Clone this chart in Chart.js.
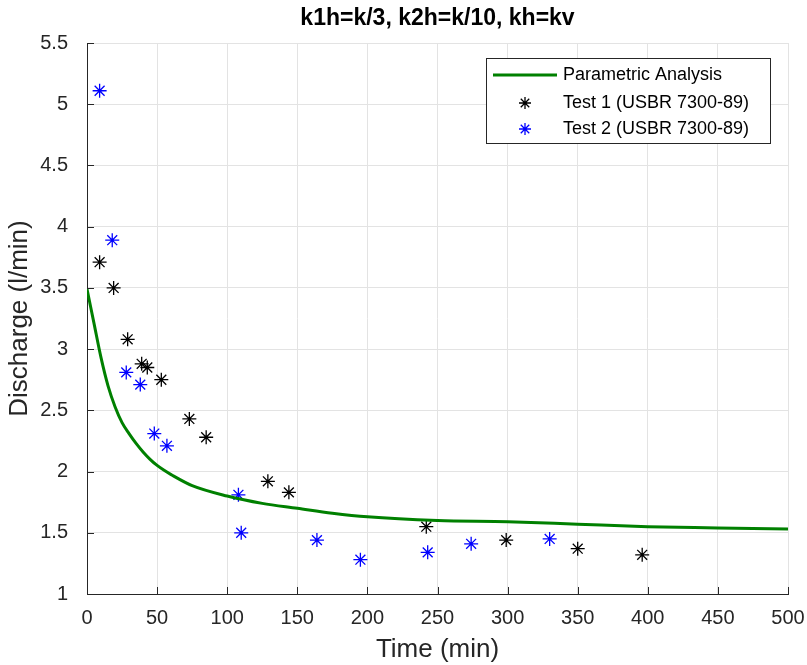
<!DOCTYPE html>
<html>
<head>
<meta charset="utf-8">
<script src="https://cdn.jsdelivr.net/npm/chart.js@4/dist/chart.umd.min.js"></script>
<style>
  html, body { margin: 0; padding: 0; background: #fff; }
  #wrap { width: 807px; height: 665px; }
</style>
</head>
<body>
<div id="wrap"><canvas id="dischargeChart" width="807" height="665"></canvas></div>
<script>
    // Datos
    const curveTime = [0, 5, 10, 15, 20, 25, 30, 35, 40, 45, 50, 55, 60, 75, 100, 125, 150, 175, 200, 250, 300, 350, 400, 450, 500];
    const curveDischarge = [3.49, 3.21, 2.93, 2.70, 2.53, 2.40, 2.31, 2.23, 2.16, 2.10, 2.05, 2.01, 1.975, 1.885, 1.80, 1.74, 1.70, 1.66, 1.63, 1.60, 1.59, 1.57, 1.55, 1.54, 1.53];

    const test1Time = [9, 19, 29, 39, 43, 53, 73, 85, 129, 144, 242, 299, 350, 396];
    const test1Discharge = [3.71, 3.50, 3.08, 2.88, 2.85, 2.75, 2.43, 2.28, 1.92, 1.83, 1.55, 1.44, 1.37, 1.32];

    const test2Time = [9, 18, 28, 38, 48, 57, 108, 110, 164, 195, 243, 274, 330];
    const test2Discharge = [5.11, 3.89, 2.81, 2.71, 2.31, 2.21, 1.81, 1.50, 1.44, 1.28, 1.34, 1.41, 1.45];

    const xTicks = [0, 50, 100, 150, 200, 250, 300, 350, 400, 450, 500];
    const yTicks = [1, 1.5, 2, 2.5, 3, 3.5, 4, 4.5, 5, 5.5];

    const toPoints = (xs, ys) => xs.map((x, i) => ({ x: x, y: ys[i] }));

    const axisColor = "#262626";
    const font = "'Liberation Sans', Arial, sans-serif";

    // Titulo, marcas interiores y leyenda
    const decorations = {
      id: "decorations",
      afterDraw(chart) {
        const ctx = chart.ctx;
        const area = chart.chartArea;
        const xs = chart.scales.x, ys = chart.scales.y;
        ctx.save();
        ctx.strokeStyle = axisColor;
        ctx.lineWidth = 1;
        ctx.beginPath();
        xTicks.forEach(t => {
          const px = Math.round(xs.getPixelForValue(t)) + 0.5;
          ctx.moveTo(px, area.bottom);
          ctx.lineTo(px, area.bottom - 7);
        });
        yTicks.forEach(t => {
          const py = Math.round(ys.getPixelForValue(t)) + 0.5;
          ctx.moveTo(area.left, py);
          ctx.lineTo(area.left + 7, py);
        });
        ctx.stroke();

        ctx.fillStyle = "#000";
        ctx.font = "bold 23px " + font;
        ctx.textAlign = "center";
        ctx.textBaseline = "middle";
        ctx.fillText("k1h=k/3, k2h=k/10, kh=kv", (area.left + area.right) / 2, 19);

        // leyenda
        const lx = 486, ly = 58, lw = 284, lh = 85;
        ctx.fillStyle = "#fff";
        ctx.fillRect(lx, ly, lw, lh);
        ctx.strokeStyle = axisColor;
        ctx.strokeRect(lx + 0.5, ly + 0.5, lw, lh);
        const rows = [75, 103, 129];
        ctx.strokeStyle = "#008000";
        ctx.lineWidth = 3;
        ctx.beginPath();
        ctx.moveTo(493, rows[0]);
        ctx.lineTo(557, rows[0]);
        ctx.stroke();
        ctx.lineWidth = 1.3;
        ctx.fillStyle = "rgba(0,0,0,0)";
        ctx.strokeStyle = "#000";
        Chart.helpers.drawPoint(ctx, { pointStyle: "star", radius: 6, borderWidth: 1.3 }, 525, rows[1]);
        ctx.strokeStyle = "#0000ff";
        Chart.helpers.drawPoint(ctx, { pointStyle: "star", radius: 6, borderWidth: 1.3 }, 525, rows[2]);
        ctx.fillStyle = "#000";
        ctx.font = "18px " + font;
        ctx.textAlign = "left";
        ctx.fillText("Parametric Analysis", 563, rows[0]);
        ctx.fillText("Test 1 (USBR 7300-89)", 563, rows[1]);
        ctx.fillText("Test 2 (USBR 7300-89)", 563, rows[2]);
        ctx.restore();
      }
    };

    new Chart(document.getElementById("dischargeChart"), {
      type: "scatter",
      data: {
        datasets: [
          {
            label: "Parametric Analysis",
            data: toPoints(curveTime, curveDischarge),
            showLine: true,
            borderColor: "#008000",
            borderWidth: 3,
            pointRadius: 0,
            cubicInterpolationMode: "monotone"
          },
          {
            label: "Test 1 (USBR 7300-89)",
            data: toPoints(test1Time, test1Discharge),
            pointStyle: "star",
            pointRadius: 7,
            borderColor: "#000000",
            borderWidth: 1.3
          },
          {
            label: "Test 2 (USBR 7300-89)",
            data: toPoints(test2Time, test2Discharge),
            pointStyle: "star",
            pointRadius: 7,
            borderColor: "#0000ff",
            borderWidth: 1.3
          }
        ]
      },
      options: {
        responsive: false,
        animation: false,
        layout: { padding: { top: 43, right: 19, left: 0, bottom: 0 } },
        plugins: {
          legend: { display: false },
          tooltip: { enabled: false }
        },
        scales: {
          x: {
            type: "linear",
            min: 0,
            max: 500,
            afterFit: s => { s.height = 71; s.paddingLeft = 0; s.paddingRight = 0; },
            afterBuildTicks: s => { s.ticks = xTicks.map(v => ({ value: v })); },
            grid: { color: "#e3e3e3", drawTicks: false },
            border: { color: axisColor, width: 1 },
            ticks: { color: axisColor, padding: 12, font: { family: font, size: 20 }, maxRotation: 0 },
            title: { display: true, text: "Time (min)", color: axisColor, padding: { top: 0, bottom: 0 }, font: { family: font, size: 26 } }
          },
          y: {
            type: "linear",
            min: 1,
            max: 5.5,
            afterFit: s => { s.width = 87; s.paddingTop = 0; s.paddingBottom = 0; },
            afterBuildTicks: s => { s.ticks = yTicks.map(v => ({ value: v })); },
            grid: { color: "#e3e3e3", drawTicks: false },
            border: { color: axisColor, width: 1 },
            ticks: { color: axisColor, padding: 19, font: { family: font, size: 20 }, callback: v => String(v) },
            title: { display: true, text: "Discharge (l/min)", color: axisColor, padding: { top: 4, bottom: 0 }, font: { family: font, size: 26 } }
          }
        }
      },
      plugins: [decorations]
    });
</script>
</body>
</html>
